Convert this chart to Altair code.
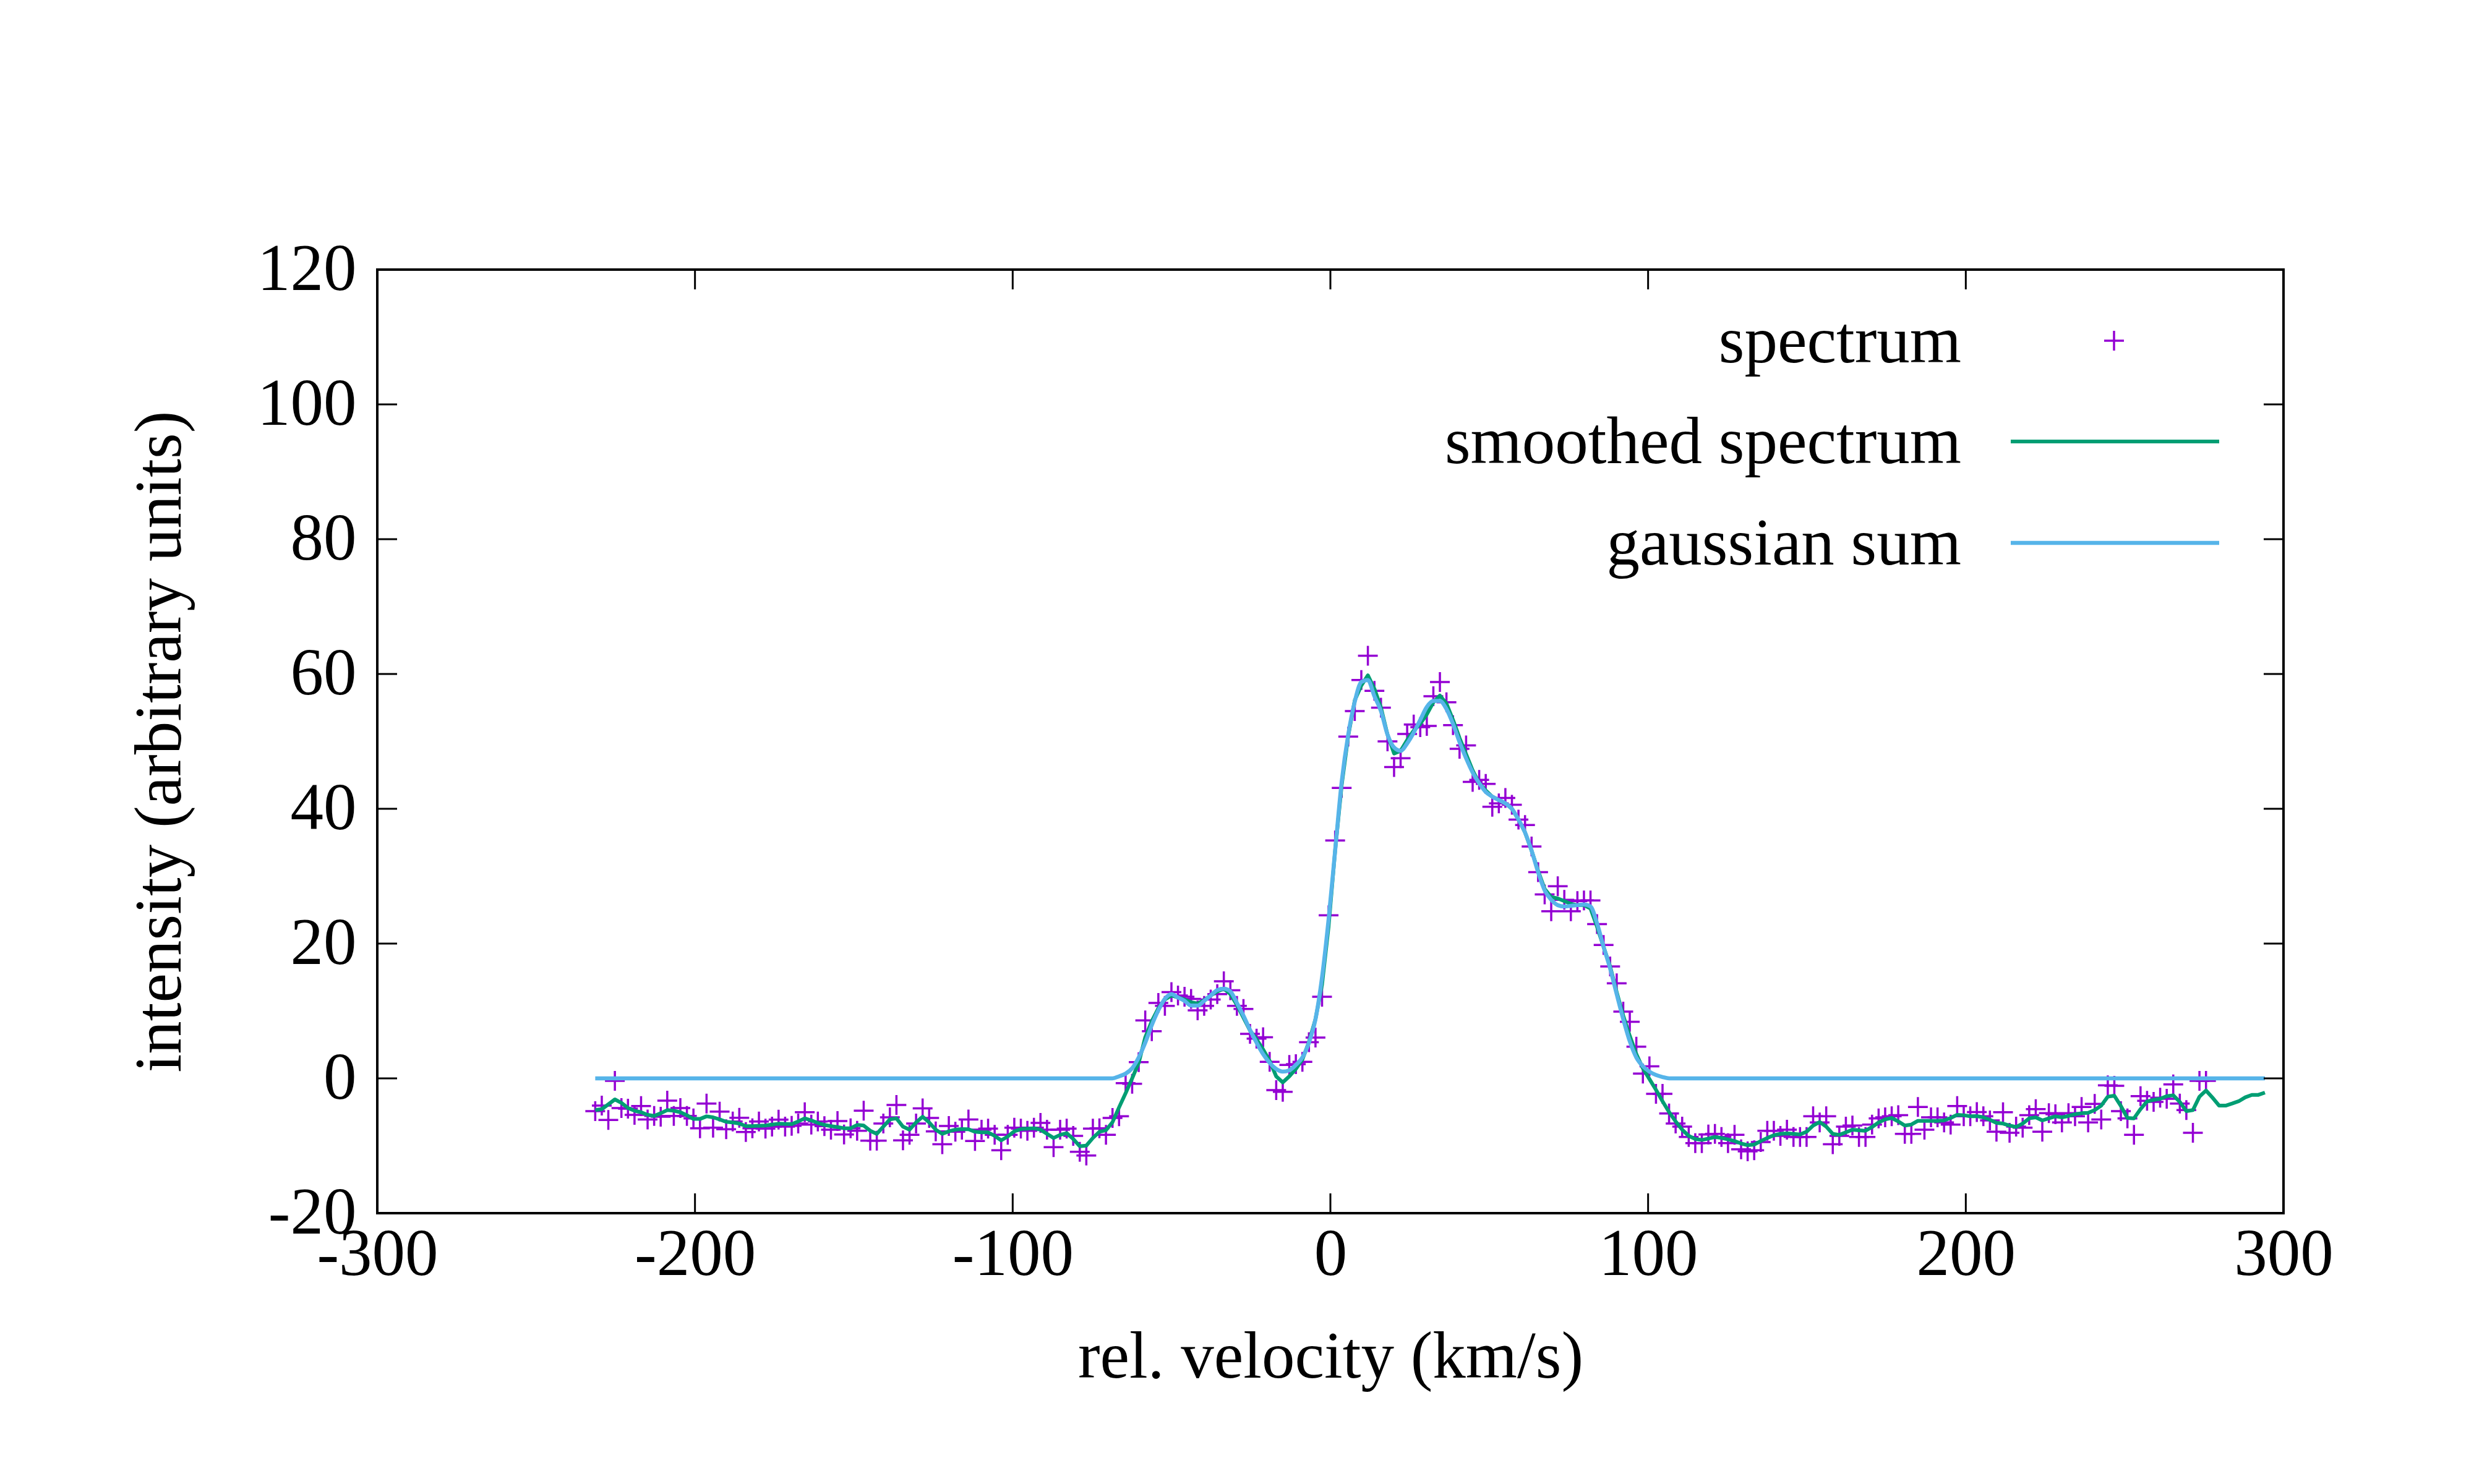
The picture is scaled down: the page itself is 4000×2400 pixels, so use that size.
import altair as alt
import pandas as pd

# ---- channel grid (velocity, km/s) ----
V_START = -231.4
V_STEP = 2.061

# ---- spectrum points ----
spectrum = [
    -4.86, -4.04, -6.18, -0.37, -4.40, -4.50, -5.41, -4.10, -6.09, -5.57,
    -5.69, -3.30, -5.57, -4.40, -5.57, -5.93, -7.40, -3.73, -7.31, -4.92,
    -7.55, -6.39, -5.84, -7.95, -7.40, -6.39, -7.46, -7.16, -6.12, -7.16,
    -7.03, -6.70, -5.02, -6.85, -6.39, -7.09, -7.61, -6.33, -8.32, -7.40,
    -7.77, -4.80,
    -9.24, -9.24, -6.70, -5.78, -3.94, -9.20, -8.38, -6.70, -4.46, -5.87,
    -7.86, -9.76, -7.06, -7.92, -7.61, -6.09, -9.30, -7.61, -7.46, -8.38,
    -10.67, -8.38, -7.31, -7.46, -7.77, -7.31, -6.61, -7.61, -10.21, -7.61,
    -7.46, -8.53, -10.89, -11.44, -7.46, -7.40, -8.38, -5.87, -5.63,
    -0.7, -0.8, 2.4,
    8.6, 7.0, 11.2, 10.75, 12.8, 12.3, 12.1, 11.8, 10.1, 10.75,
    11.7, 12.5, 14.4, 13.07, 10.75, 10.3, 6.6, 5.9, 6.1, 2.45,
    -1.75, -2.0, 2.0, 2.1, 2.45, 5.36, 6.06, 12.1, 24.2, 35.3,
    43.1, 50.7, 54.5, 59.1, 62.7, 57.5, 55.0, 50.0,
    46.2, 47.5, 51.1, 52.5, 52.1, 52.3, 56.7, 58.8, 55.8, 52.4,
    48.9, 49.4, 44.0, 44.3, 43.7, 40.3, 40.8, 41.6, 40.6, 38.4,
    37.6, 34.4, 30.6, 27.3, 24.8, 28.5, 26.5, 24.8, 26.3, 26.4,
    26.4, 22.9, 19.8, 16.6, 14.1, 9.9, 8.4, 4.7, 0.7, 1.8,
    -2.3, -2.3, -5.2,
    -6.70, -7.16, -8.69, -9.60, -9.60, -8.32, -8.23, -8.69, -9.60, -8.38,
    -10.52, -10.83, -10.67, -9.45, -7.77, -7.77, -8.53, -7.61, -8.69, -8.69,
    -8.69, -5.63, -6.54, -5.63, -9.76, -8.53, -7.16, -7.00, -8.69, -8.69,
    -6.85, -5.93, -5.78, -5.63, -5.47, -8.23, -8.23, -4.25, -7.61, -5.78,
    -5.78, -6.54, -6.85, -4.10, -5.63, -5.63, -5.0,
    -5.63, -6.24, -7.92, -5.02, -8.07, -7.16, -7.31, -5.47, -4.56, -7.92,
    -5.17, -5.32, -6.54, -5.17, -5.63, -4.25, -6.54, -3.79, -6.09, -1.04,
    -1.10, -4.86, -5.93, -8.38, -2.63, -3.33, -3.49, -2.87, -3.03, -0.89,
    -3.73, -4.71, -8.07, -0.37, -0.37,
]

# ---- smoothed spectrum ----
smoothed = [
    -4.71, -4.56, -3.85, -3.12, -3.64, -4.40, -4.80, -5.02, -5.41, -5.57,
    -5.17, -4.71, -4.80, -5.02, -5.47, -6.02, -6.02, -5.63, -5.78, -6.09,
    -6.45, -6.54, -6.70, -7.09, -7.09, -7.03, -7.00, -6.85, -6.73, -6.76,
    -6.79, -6.39, -5.93, -6.24, -6.61, -6.91, -7.09, -7.22, -7.40, -7.40,
    -6.91, -7.00,
    -7.77, -8.23, -7.16, -6.09, -5.93, -7.16, -7.61, -6.54, -5.69, -6.54,
    -7.61, -8.23, -7.86, -7.61, -7.52, -7.55, -7.92, -8.01, -8.01, -8.53,
    -9.20, -8.62, -7.86, -7.52, -7.46, -7.40, -7.61, -8.23, -8.84, -8.38,
    -8.13, -8.99, -10.06, -9.97, -8.84, -7.92,
    -7.7, -6.5, -4.3, -2.2, 0.0,
    2.3, 6.1, 8.5, 10.4, 11.7, 12.3, 12.0, 11.7, 11.3, 11.1,
    11.6, 12.3, 12.9, 13.3, 12.5, 10.9, 9.0, 7.1, 5.8, 4.3,
    2.6, 0.3, -0.6, 0.3, 1.4, 2.8, 5.4, 8.8, 13.9, 22.5,
    33.8, 43.5, 50.8, 56.1, 58.3, 59.8, 57.8, 55.0, 51.0,
    48.2, 48.6, 50.2, 51.6, 52.6, 54.0, 55.8, 56.8, 55.6, 53.2,
    50.5, 48.1, 45.7, 43.8, 42.7, 41.8, 41.3, 40.8, 40.0, 38.4,
    36.5, 33.8, 30.8, 28.1, 26.9, 26.7, 26.3, 25.9, 25.7, 25.7,
    25.2, 22.5, 19.5, 16.6, 12.8, 9.3, 6.3, 3.6, 1.5, -0.1,
    -1.7, -3.4, -5.0,
    -6.39, -7.61, -8.53, -8.99, -9.14, -8.93, -8.69, -8.84, -9.05, -9.30,
    -9.66, -9.91, -9.82, -9.30, -8.84, -8.44, -8.23, -8.17, -8.23, -8.32,
    -7.92, -7.00, -6.48, -7.16, -8.23, -8.38, -8.01, -7.61, -7.71, -7.77,
    -7.22, -6.54, -6.09, -5.87, -6.39, -7.00, -6.85, -6.30, -6.30, -6.30,
    -6.30, -6.24, -5.87, -5.41, -5.47, -5.63, -5.6,
    -5.78, -6.15, -6.61, -6.70, -7.00, -7.22, -6.70, -5.93, -5.78, -6.24,
    -5.93, -5.63, -5.78, -5.57, -5.32, -5.17, -5.11, -4.71, -4.04, -2.72,
    -2.57, -4.10, -5.87, -5.93, -4.56, -3.43, -3.18, -3.03, -2.63, -2.51,
    -3.49, -4.86, -4.71, -2.72, -1.80, -2.87, -4.04, -4.04, -3.73, -3.39,
    -2.81, -2.45, -2.45, -2.11,
]

# ---- gaussian sum ----
gaussian_peak = [
    0.3, 0.7, 1.5, 3.1, 5.3, 7.9, 10.1, 11.8, 12.5, 12.0,
    11.5, 10.8, 10.8, 11.5, 12.3, 13.1, 13.3, 12.9, 11.2, 9.3,
    7.2, 5.3, 3.6, 2.3, 1.4, 1.0, 1.2, 2.0, 3.1, 5.3,
    8.8, 15.0, 23.6, 33.8, 44.0, 51.0, 55.9, 58.8, 59.1, 56.7,
    54.5, 51.0,
    49.1, 48.6, 49.7, 51.3, 53.2, 55.1, 56.0, 56.0, 54.8, 52.6,
    49.9, 47.5, 45.4, 43.8, 42.5, 41.8, 41.3, 40.8, 40.0, 38.4,
    36.5, 33.8, 30.6, 27.9, 26.5, 25.7, 25.5, 25.6, 25.7, 25.8,
    25.5, 23.0, 19.5, 16.3, 12.5, 8.8, 5.5, 3.1, 1.8, 1.0,
    0.5, 0.2, 0.0,
]
gauss_lead = [0.0] * 80
gauss_tail = [0.0] * (len(smoothed) - 80 - len(gaussian_peak))
gaussian_sum = gauss_lead + gaussian_peak + gauss_tail

x_ticks = [-300, -200, -100, 0, 100, 200, 300]
y_ticks = [-20, 0, 20, 40, 60, 80, 100, 120]
legend_labels = ["spectrum", "smoothed spectrum", "gaussian sum"]

velocity = [round(V_START + i * V_STEP, 3) for i in range(len(smoothed))]

df_spec = pd.DataFrame({"v": velocity[:len(spectrum)], "I": spectrum})
df_smooth = pd.DataFrame({"v": velocity, "I": smoothed})
df_gauss = pd.DataFrame({"v": velocity, "I": gaussian_sum})
df_xt = pd.DataFrame({"t": x_ticks})
df_yt = pd.DataFrame({"t": y_ticks})

W, H = 3082, 1526
FONT = "Liberation Serif"
FS = 107
PURPLE = "#9400D3"
GREEN = "#009E73"
BLUE = "#56B4E9"
PLUS = "M-1,0L1,0M0,-1L0,1"

xscale = alt.Scale(domain=[-300, 300], nice=False, zero=False)
yscale = alt.Scale(domain=[-20, 120], nice=False, zero=False)

xaxis = alt.Axis(values=x_ticks, title="rel. velocity (km/s)", ticks=False, tickSize=0,
                 domain=False, grid=False, labelFont=FONT, labelFontSize=FS,
                 labelPadding=14, labelColor="black", labelFlush=False, labelOverlap=False,
                 labelLimit=0, labelExpr="'' + datum.value",
                 titleFont=FONT, titleFontSize=FS, titleFontWeight="normal", titleColor="black",
                 titleX=W / 2, titleY=265, titleBaseline="alphabetic", titleAlign="center",
                 titleLimit=0)
yaxis = alt.Axis(values=y_ticks, title="intensity (arbitrary units)", ticks=False, tickSize=0,
                 domain=False, grid=False, labelFont=FONT, labelFontSize=FS,
                 labelPadding=34, labelColor="black", labelFlush=False, labelOverlap=False,
                 labelAlign="right", labelBaseline="middle", labelLimit=0,
                 labelExpr="'' + datum.value",
                 titleFont=FONT, titleFontSize=FS, titleFontWeight="normal", titleColor="black",
                 titleX=-319, titleY=H / 2, titleAngle=270, titleBaseline="alphabetic",
                 titleAlign="center", titleLimit=0)

X = lambda f: alt.X(f, scale=xscale, axis=xaxis)
Y = lambda f: alt.Y(f, scale=yscale, axis=yaxis)

points = alt.Chart(df_spec).mark_point(
    shape=PLUS, filled=False, size=1024, strokeWidth=3.5, color=PURPLE, opacity=1
).encode(x=X("v:Q"), y=Y("I:Q"))

smooth_line = alt.Chart(df_smooth).mark_line(
    color=GREEN, strokeWidth=6, strokeJoin="round"
).encode(x=X("v:Q"), y=Y("I:Q"))

gauss_line = alt.Chart(df_gauss).mark_line(
    color=BLUE, strokeWidth=6.5, interpolate="monotone"
).encode(x=X("v:Q"), y=Y("I:Q"))

tick_style = dict(color="black", strokeWidth=3)
xt_bottom = alt.Chart(df_xt).mark_rule(**tick_style).encode(
    x=X("t:Q"), y=alt.value(H), y2=alt.value(H - 32))
xt_top = alt.Chart(df_xt).mark_rule(**tick_style).encode(
    x=X("t:Q"), y=alt.value(0), y2=alt.value(32))
yt_left = alt.Chart(df_yt).mark_rule(**tick_style).encode(
    y=Y("t:Q"), x=alt.value(0), x2=alt.value(32))
yt_right = alt.Chart(df_yt).mark_rule(**tick_style).encode(
    y=Y("t:Q"), x=alt.value(W), x2=alt.value(W - 32))

# ---- legend (gnuplot style: label on the left, sample on the right) ----
legend_rows_y = [150, 313, 477]
legend_layers = []
for lab, ly in zip(legend_labels, legend_rows_y):
    legend_layers.append(
        alt.Chart(pd.DataFrame({"label": [lab]})).mark_text(
            align="right", baseline="alphabetic", font=FONT, fontSize=FS, color="black"
        ).encode(x=alt.value(2561), y=alt.value(ly), text="label:N")
    )
legend_plus = alt.Chart(pd.DataFrame({"k": [0]})).mark_point(
    shape=PLUS, filled=False, size=1024, strokeWidth=3.5, color=PURPLE, opacity=1
).encode(x=alt.value(2808), y=alt.value(115))
legend_green = alt.Chart(pd.DataFrame({"k": [0]})).mark_rule(color=GREEN, strokeWidth=6).encode(
    x=alt.value(2641), x2=alt.value(2978), y=alt.value(278))
legend_blue = alt.Chart(pd.DataFrame({"k": [0]})).mark_rule(color=BLUE, strokeWidth=6.5).encode(
    x=alt.value(2641), x2=alt.value(2978), y=alt.value(442))

chart = alt.layer(
    points, smooth_line, gauss_line,
    xt_bottom, xt_top, yt_left, yt_right,
    *legend_layers, legend_plus, legend_green, legend_blue,
).properties(
    width=W, height=H,
    autosize=alt.AutoSizeParams(type="none"),
    padding={"left": 610, "top": 436, "right": 308, "bottom": 438},
    background="white",
).configure_view(
    stroke="black", strokeWidth=4
)

chart.save("out.html", embed_options={"renderer": "svg", "actions": False})
